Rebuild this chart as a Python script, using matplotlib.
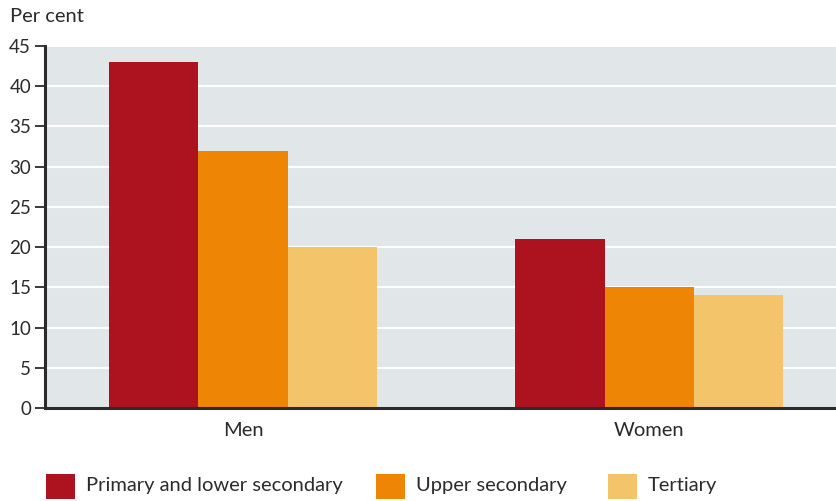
import numpy as np
import matplotlib
matplotlib.use('Agg')
import matplotlib.pyplot as plt
from matplotlib.patches import Rectangle

plt.rcParams['font.family'] = ['Lato', 'DejaVu Sans']

# data
groups = ['Men', 'Women']
series = ['Primary and lower secondary', 'Upper secondary', 'Tertiary']
values = {
    'Primary and lower secondary': [43, 21],
    'Upper secondary': [32, 15],
    'Tertiary': [20, 14],
}
yticks = [0, 5, 10, 15, 20, 25, 30, 35, 40, 45]

colors = ['#ad121f', '#ee8505', '#f4c46a']
txt = '#2b2b2b'

W, H = 836, 501
fig = plt.figure(figsize=(W / 100, H / 100), dpi=100)
ax = fig.add_axes([45 / W, 93 / H, 791 / W, 362 / H])
ax.set_facecolor('#e1e6e9')

x = np.arange(len(groups))
w = 0.22
for i, s in enumerate(series):
    ax.bar(x + (i - 1) * w, values[s], width=w, color=colors[i], zorder=3, linewidth=0)

ax.set_ylim(0, 45)
ax.set_xlim(-0.488, 1.46)
ax.set_yticks(yticks)
ax.set_yticklabels([str(t) for t in yticks], fontsize=13.5, color=txt)
ax.set_xticks(x)
ax.set_xticklabels(groups, fontsize=14.5, color=txt)
ax.yaxis.grid(True, color='white', linewidth=1.5, zorder=1)
ax.set_axisbelow(True)

ax.tick_params(axis='y', length=7, width=1.3, color=txt, pad=3)
ax.tick_params(axis='x', length=0, pad=10)
for side in ['top', 'right']:
    ax.spines[side].set_visible(False)
for side in ['left', 'bottom']:
    ax.spines[side].set_linewidth(2.2)
    ax.spines[side].set_color(txt)
    ax.spines[side].set_zorder(4)

fig.text(10 / W, 1 - 16 / H, 'Per cent', fontsize=14.5, color=txt, va='center', ha='left')

# legend along the bottom
leg_x = [46, 376, 608]
for xs, c, s in zip(leg_x, colors, series):
    fig.add_artist(Rectangle((xs / W, 1 - 499 / H), 29 / W, 25 / H,
                             transform=fig.transFigure, facecolor=c, edgecolor='none'))
    fig.text((xs + 40) / W, 1 - 486 / H, s, fontsize=14.5, color=txt, va='center', ha='left')

plt.savefig('out.png', dpi=100)
